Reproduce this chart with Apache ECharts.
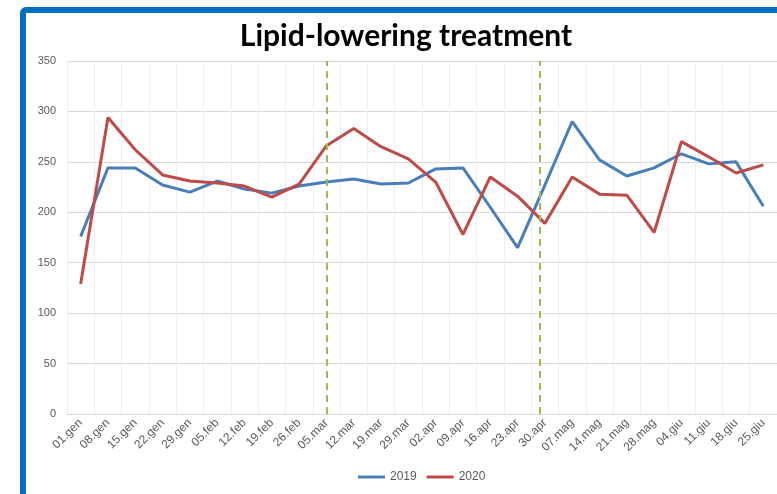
<!DOCTYPE html>
<html style="height: 100%">
<head>
    <meta charset="utf-8">
    <script type="text/javascript" src="https://cdn.jsdelivr.net/npm/echarts@6/dist/echarts.min.js"></script>
</head>
<body style="height: 100%; margin: 0; background: #fff">
<div id="container" style="width: 777px; height: 494px"></div>
<script type="text/javascript">
    // weekly values
    var weeks = ['01.gen', '08.gen', '15.gen', '22.gen', '29.gen', '05.feb', '12.feb', '19.feb', '26.feb',
        '05.mar', '12.mar', '19.mar', '29.mar', '02.apr', '09.apr', '16.apr', '23.apr', '30.apr',
        '07.mag', '14.mag', '21.mag', '28.mag', '04.giu', '11.giu', '18.giu', '25.giu'];
    var values2019 = [176, 244, 244, 227, 220, 231, 223, 219, 226, 230, 233, 228, 229, 243, 244, 205, 165, 227,
        290, 252, 236, 244, 258, 248, 250, 206];
    var values2020 = [129, 294, 262, 237, 231, 229, 226, 215, 228, 266, 283, 265, 253, 230, 178, 235, 216, 189,
        235, 218, 217, 180, 270, 255, 239, 247];
    // positions of the two dashed markers, in week units
    var markerWeeks = [9, 16.8];

    var dom = document.getElementById('container');
    var myChart = echarts.init(dom);

    var option = {
        animation: false,
        title: {
            text: 'Lipid-lowering treatment',
            left: 401,
            textAlign: 'center',
            top: 16,
            textStyle: {fontFamily: 'Lato', fontWeight: 'bold', fontSize: 30, color: '#000'}
        },
        graphic: [{
            type: 'rect',
            shape: {x: 23, y: 10, width: 800, height: 520, r: 3},
            style: {fill: 'none', stroke: '#0070c0', lineWidth: 6},
            silent: true
        }],
        legend: {
            data: ['2019', '2020'],
            bottom: 6,
            left: 353,
            icon: 'rect',
            itemWidth: 27,
            itemHeight: 3,
            itemGap: 10,
            textStyle: {fontSize: 12, color: '#595959', fontFamily: 'Liberation Sans'}
        },
        grid: {left: 67, right: -4, top: 61, bottom: 80},
        xAxis: [{
            type: 'category',
            data: weeks,
            boundaryGap: true,
            axisLine: {lineStyle: {color: '#d9d9d9', width: 1}},
            axisTick: {show: false},
            splitLine: {show: true, lineStyle: {color: '#eeeeee', width: 1}},
            axisLabel: {
                rotate: 45,
                interval: 0,
                fontSize: 12,
                color: '#595959',
                fontFamily: 'Liberation Sans',
                margin: 7
            }
        }, {
            type: 'value',
            min: -0.5,
            max: 25.5,
            show: false
        }],
        yAxis: {
            type: 'value',
            min: 0,
            max: 350,
            interval: 50,
            axisLine: {show: false},
            axisTick: {show: false},
            splitLine: {lineStyle: {color: '#d9d9d9', width: 1}},
            axisLabel: {fontSize: 11, color: '#595959', fontFamily: 'Liberation Sans', margin: 11}
        },
        series: [{
            name: '2019',
            type: 'line',
            data: values2019,
            symbol: 'none',
            color: '#4a7ebb',
            lineStyle: {width: 3}
        }, {
            name: '2020',
            type: 'line',
            data: values2020,
            symbol: 'none',
            color: '#be4b48',
            lineStyle: {width: 3}
        }, {
            name: 'markers',
            type: 'line',
            xAxisIndex: 1,
            data: markerWeeks.map(function (w) { return [w, 0]; }),
            showSymbol: false,
            symbol: 'none',
            lineStyle: {opacity: 0},
            silent: true,
            markLine: {
                silent: true,
                symbol: 'none',
                label: {show: false},
                lineStyle: {color: '#9bbb59', type: [7, 5], width: 2},
                data: markerWeeks.map(function (w) {
                    return {xAxis: w};
                })
            }
        }]
    };

    myChart.setOption(option);
</script>
</body>
</html>
